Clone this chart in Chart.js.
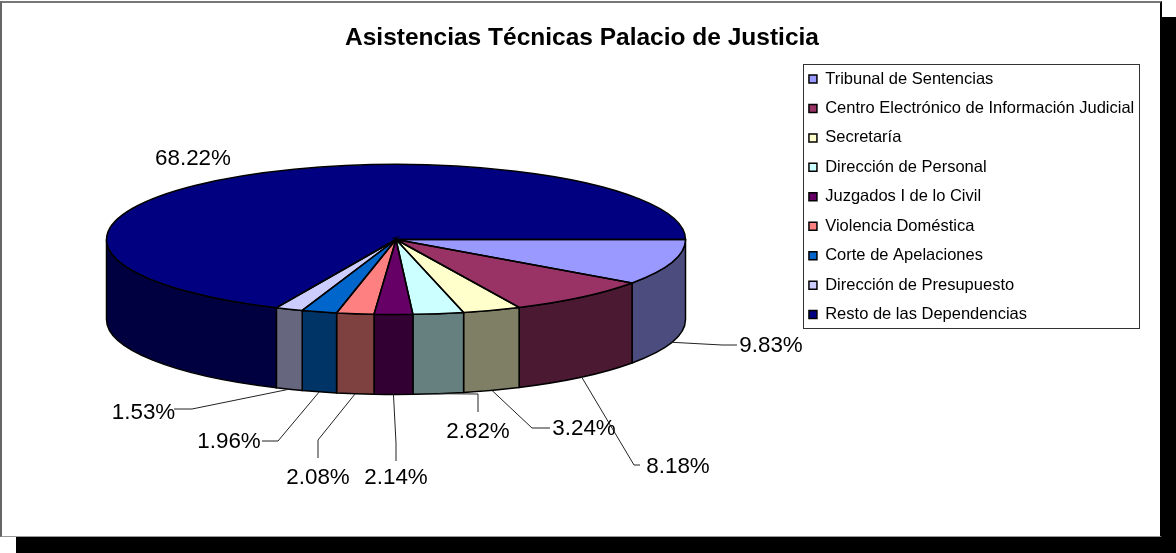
<!DOCTYPE html>
<html>
<head>
<meta charset="utf-8">
<title>Asistencias Técnicas Palacio de Justicia</title>
<script src="https://cdn.jsdelivr.net/npm/chart.js@4/dist/chart.umd.min.js"></script>
<style>
  html, body { margin: 0; padding: 0; background: #fff; overflow: hidden; }
  #shadow { position: absolute; left: 16px; top: 17px; width: 1160px; height: 536px; background: #000; }
  #frame { position: absolute; left: 0; top: 1px; width: 1162px; height: 536px; background: #fff;
    box-sizing: border-box; border-left: 2px solid #666; border-top: 2px solid #777; border-right: 2px solid #000; border-bottom: 1px solid #999; }
  canvas { position: absolute; left: 2px; top: 3px; }
</style>
</head>
<body>
<div id="shadow"></div>
<div id="frame"></div>
<canvas id="chart" width="1158" height="534"></canvas>
<script>
const titleText = 'Asistencias Técnicas Palacio de Justicia';
const categories = ['Tribunal de Sentencias', 'Centro Electrónico de Información Judicial', 'Secretaría', 'Dirección de Personal', 'Juzgados I de lo Civil', 'Violencia Doméstica', 'Corte de Apelaciones', 'Dirección de Presupuesto', 'Resto de las Dependencias'];
const percentages = [9.83, 8.18, 3.24, 2.82, 2.14, 2.08, 1.96, 1.53, 68.22];
const sliceColors = ['#9999ff', '#993366', '#ffffcc', '#ccffff', '#660066', '#ff8080', '#0066cc', '#ccccff', '#000080'];

// label placement, page is offset 2,3 from the canvas
const labelX = [769, 676, 582, 476, 394, 316, 227, 141.5, 191];
const labelY = [343, 464, 426, 429, 475, 475, 439, 410, 156];
// leader line: bend points after the slice edge, null = no leader
const leaderBends = [
  [[720, 342], [735, 342]],
  [[632, 462], [638, 462]],
  [[530, 425], [548, 425]],
  [[476, 391], [476, 409]],
  [[394, 440], [394, 458]],
  [[316, 437], [316, 455]],
  [[276, 438], [260, 438]],
  [[190, 406], [172, 406]],
  null
];

const CX = 394;
const CY = 236.5;
const RX = 289.5;
const RY = 75;
const DEPTH = 80;

const halfShade = (hex) => {
  const n = parseInt(hex.slice(1), 16);
  return `rgb(${(n >> 16) >> 1}, ${((n >> 8) & 255) >> 1}, ${(n & 255) >> 1})`;
};

const pie3d = {
  id: 'pie3d',
  afterLayout(chart) {
    const area = chart.chartArea;
    area.left = CX - 300; area.right = CX + 300; area.width = 600;
    area.top = CY - 100; area.bottom = CY + 100; area.height = 200;
    chart.legend.left = 794;
    chart.legend.top = 54.8;
    chart.titleBlock.left = 1;
    chart.titleBlock.right = chart.width + 1;
  },
  beforeDatasetsDraw(chart) {
    const { ctx } = chart;
    const arcs = chart.getDatasetMeta(0).data;
    // side walls, only the front half of the pie shows
    arcs.forEach((arc, i) => {
      if (arc.startAngle >= Math.PI) return;
      const a0 = arc.startAngle;
      const a1 = Math.min(arc.endAngle, Math.PI);
      ctx.beginPath();
      ctx.ellipse(arc.x, arc.y, RX, RY, 0, a0, a1);
      ctx.ellipse(arc.x, arc.y + DEPTH, RX, RY, 0, a1, a0, true);
      ctx.closePath();
      ctx.fillStyle = halfShade(sliceColors[i]);
      ctx.fill();
      ctx.strokeStyle = '#000';
      ctx.lineWidth = 1.5;
      ctx.stroke();
    });
    ctx.save();
    ctx.translate(CX, CY);
    ctx.scale(1, RY / RX);
    ctx.translate(-CX, -CY);
  },
  afterDatasetsDraw(chart) {
    const { ctx } = chart;
    ctx.restore();
    const arcs = chart.getDatasetMeta(0).data;
    arcs.forEach((arc) => {
      ctx.beginPath();
      ctx.moveTo(arc.x, arc.y);
      ctx.ellipse(arc.x, arc.y, RX, RY, 0, arc.startAngle, arc.endAngle);
      ctx.closePath();
      ctx.strokeStyle = '#000';
      ctx.lineWidth = 1.5;
      ctx.stroke();
    });
    // percentages and leader lines
    arcs.forEach((arc, i) => {
      const bends = leaderBends[i];
      if (bends) {
        const mid = (arc.startAngle + arc.endAngle) / 2;
        ctx.beginPath();
        ctx.moveTo(arc.x + RX * Math.cos(mid), arc.y + DEPTH + RY * Math.sin(mid));
        bends.forEach((p) => ctx.lineTo(p[0], p[1]));
        ctx.strokeStyle = '#222';
        ctx.lineWidth = 1;
        ctx.stroke();
      }
      ctx.font = '22.4px "Liberation Sans"';
      ctx.fillStyle = '#000';
      ctx.textAlign = 'center';
      ctx.textBaseline = 'middle';
      ctx.fillText(`${percentages[i].toFixed(2)}%`, labelX[i], labelY[i]);
    });
  },
  afterDraw(chart) {
    const { ctx } = chart;
    ctx.strokeStyle = '#333';
    ctx.lineWidth = 1;
    ctx.strokeRect(801.5, 61.5, 336, 264);
  },
};

new Chart(document.getElementById('chart'), {
  type: 'pie',
  plugins: [pie3d],
  data: {
    labels: categories,
    datasets: [{
      data: percentages,
      backgroundColor: sliceColors,
      borderWidth: 0,
      clip: false,
    }],
  },
  options: {
    responsive: false,
    animation: false,
    rotation: 90,
    radius: RX,
    events: [],
    plugins: {
      tooltip: { enabled: false },
      title: {
        display: true,
        text: titleText,
        color: '#000',
        font: { family: '"Liberation Sans"', size: 24.5, weight: 'bold' },
        padding: { top: 20.5, bottom: 8 },
      },
      legend: {
        position: 'right',
        align: 'start',
        labels: {
          color: '#000',
          font: { family: '"Liberation Sans"', size: 16.5 },
          boxWidth: 8,
          boxHeight: 8,
          padding: 12.95,
          generateLabels: () => categories.map((name, i) => ({
            text: name,
            fillStyle: sliceColors[i],
            strokeStyle: '#000',
            lineWidth: 1.5,
            hidden: false,
            index: i,
          })),
        },
      },
    },
  },
});
</script>
</body>
</html>
